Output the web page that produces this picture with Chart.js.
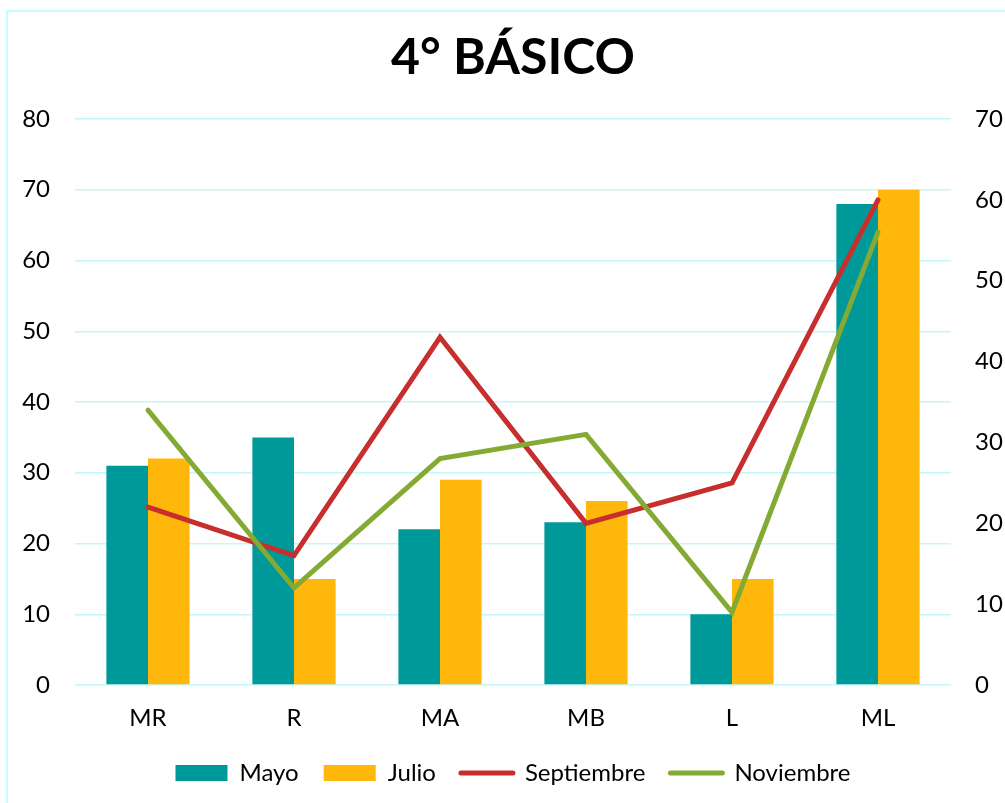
<!DOCTYPE html>
<html>
<head>
<meta charset="utf-8">
<script src="https://cdn.jsdelivr.net/npm/chart.js@4.4.0/dist/chart.umd.min.js"></script>
<style>
  html, body { margin: 0; padding: 0; background: #ffffff; }
  #wrap { width: 1005px; height: 803px; }
</style>
</head>
<body>
<div id="wrap"><canvas id="grafico"></canvas></div>
<script>
// datos
const categorias = ['MR', 'R', 'MA', 'MB', 'L', 'ML'];
const mayo = [31, 35, 22, 23, 10, 68];
const julio = [32, 15, 29, 26, 15, 70];
const septiembre = [22, 16, 43, 20, 25, 60];
const noviembre = [34, 12, 28, 31, 9, 56];

const fuente = "Lato, 'Open Sans', sans-serif";
const colorGrilla = '#c4f8f8';

// marco celeste del gráfico
const marco = {
    id: 'marco',
    afterDraw: function (chart) {
        const ctx = chart.ctx;
        ctx.save();
        ctx.strokeStyle = '#c8fcfc';
        ctx.lineWidth = 2;
        ctx.beginPath();
        ctx.moveTo(7, chart.height);
        ctx.lineTo(7, 11);
        ctx.lineTo(chart.width, 11);
        ctx.stroke();
        ctx.restore();
    }
};

new Chart(document.getElementById('grafico'), {
    data: {
        labels: categorias,
        datasets: [
            { type: 'bar', label: 'Mayo', data: mayo, backgroundColor: '#009999', yAxisID: 'y', order: 2 },
            { type: 'bar', label: 'Julio', data: julio, backgroundColor: '#ffb70b', yAxisID: 'y', order: 2 },
            {
                type: 'line', label: 'Septiembre', data: septiembre, yAxisID: 'y2', order: 1,
                borderColor: '#c62f2e', backgroundColor: '#c62f2e', borderWidth: 5,
                pointRadius: 0, tension: 0, borderCapStyle: 'round', borderJoinStyle: 'miter'
            },
            {
                type: 'line', label: 'Noviembre', data: noviembre, yAxisID: 'y2', order: 0,
                borderColor: '#84aa33', backgroundColor: '#84aa33', borderWidth: 5,
                pointRadius: 0, tension: 0, borderCapStyle: 'round', borderJoinStyle: 'miter'
            }
        ]
    },
    options: {
        responsive: true,
        maintainAspectRatio: false,
        animation: false,
        devicePixelRatio: 1,
        layout: { padding: { bottom: 8 } },
        datasets: {
            bar: { categoryPercentage: 0.57, barPercentage: 1.0 }
        },
        scales: {
            x: {
                grid: { display: false, drawTicks: false },
                border: { display: false },
                ticks: { color: '#000', padding: 19, font: { family: fuente, size: 24 } },
                afterFit: function (s) { s.height = 51; }
            },
            y: {
                position: 'left',
                min: 0, max: 80,
                ticks: { stepSize: 10, color: '#000', padding: 25, font: { family: fuente, size: 24 } },
                grid: { color: colorGrilla, lineWidth: 1.5, drawTicks: false },
                border: { display: false },
                afterFit: function (s) { s.width = 75; }
            },
            y2: {
                position: 'right',
                min: 0, max: 70,
                ticks: { stepSize: 10, color: '#000', padding: 24, font: { family: fuente, size: 24 } },
                grid: { display: false, drawTicks: false },
                border: { display: false },
                afterFit: function (s) { s.width = 54; }
            }
        },
        plugins: {
            title: {
                display: true,
                text: '4° BÁSICO',
                color: '#000',
                fullSize: false,
                font: { family: fuente, size: 50, weight: 'bold', lineHeight: 1.2 },
                padding: { top: 28, bottom: 31 }
            },
            legend: {
                position: 'bottom',
                fullSize: false,
                labels: {
                    color: '#000',
                    font: { family: fuente, size: 24 },
                    usePointStyle: true,
                    pointStyleWidth: 52,
                    boxHeight: 16,
                    padding: 25,
                    generateLabels: function (chart) {
                        return chart.data.datasets.map(function (ds, i) {
                            const esLinea = ds.type === 'line';
                            return {
                                text: ds.label,
                                fillStyle: esLinea ? ds.borderColor : ds.backgroundColor,
                                strokeStyle: esLinea ? ds.borderColor : ds.backgroundColor,
                                lineWidth: esLinea ? 5 : 0,
                                lineCap: 'round',
                                pointStyle: esLinea ? 'line' : 'rect',
                                fontColor: '#000',
                                hidden: !chart.isDatasetVisible(i),
                                datasetIndex: i
                            };
                        });
                    }
                }
            },
            tooltip: { enabled: false }
        }
    },
    plugins: [marco]
});
</script>
</body>
</html>
